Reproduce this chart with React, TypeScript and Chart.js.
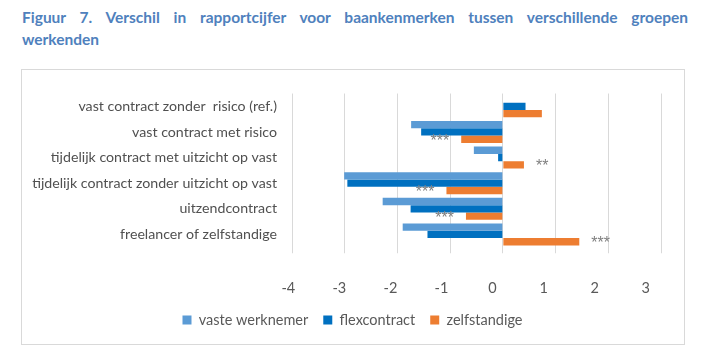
import React, { useEffect, useRef } from "react";
import { Chart, registerables } from "chart.js";

Chart.register(...registerables);

const categories = [
  "vast contract zonder  risico (ref.)",
  "vast contract met risico",
  "tijdelijk contract met uitzicht op vast",
  "tijdelijk contract zonder uitzicht op vast",
  "uitzendcontract",
  "freelancer of zelfstandige",
];
const vasteWerknemer = [0, -1.74, -0.55, -3.01, -2.28, -1.9];
const flexcontract = [0.43, -1.55, -0.09, -2.95, -1.75, -1.43];
const zelfstandige = [0.74, -0.79, 0.4, -1.07, -0.7, 1.45];
const significance = ["", "***", "**", "***", "***", "***"];
const xTickValues = [-4, -3, -2, -1, 0, 1, 2, 3];
const seriesNames = ["vaste werknemer", "flexcontract", "zelfstandige"];

const FONT = "Lato, 'Open Sans', sans-serif";
const TEXT = "#595959";

const starsPlugin = {
  id: "stars",
  afterDatasetsDraw(chart: any) {
    const meta = chart.getDatasetMeta(2);
    const ctx = chart.ctx;
    ctx.save();
    ctx.font = `16px 'Liberation Sans', Arial, sans-serif`;
    ctx.fillStyle = "#7f7f7f";
    ctx.textBaseline = "alphabetic";
    meta.data.forEach((el: any, i: number) => {
      const s = significance[i];
      if (!s) return;
      const neg = zelfstandige[i] < 0;
      ctx.textAlign = neg ? "right" : "left";
      ctx.fillText(s, el.x + (neg ? -12 : 12), el.y + 6.5);
    });
    ctx.restore();
  },
};

export default function App() {
  const ref = useRef<HTMLCanvasElement>(null);
  useEffect(() => {
    if (!ref.current) return;
    const chart = new Chart(ref.current, {
      type: "bar",
      data: {
        labels: categories,
        datasets: [
          { label: seriesNames[0], data: vasteWerknemer, backgroundColor: "#5b9bd5", borderWidth: 0 },
          { label: seriesNames[1], data: flexcontract, backgroundColor: "#0070c0", borderWidth: 0 },
          { label: seriesNames[2], data: zelfstandige, backgroundColor: "#ed7d31", borderWidth: 0 },
        ],
      },
      options: {
        indexAxis: "y",
        animation: false,
        responsive: false,
        devicePixelRatio: 1,
        layout: { padding: { left: 22, right: 23, top: 18.8, bottom: 6.75 } },
        datasets: { bar: { categoryPercentage: 0.86, barPercentage: 1 } },
        scales: {
          x: {
            type: "linear",
            position: "bottom",
            min: -4,
            max: 3,
            grid: { color: "#d9d9d9", lineWidth: 1, drawTicks: true, tickLength: 6 },
            border: { display: false },
            ticks: { display: false, stepSize: 1 },
            afterFit: (s: any) => {
              s.height = 6;
            },
          },
          x2: {
            type: "linear",
            axis: "x",
            position: "bottom",
            min: -3.9275,
            max: 3.2995,
            grid: { display: false, drawTicks: false },
            border: { display: false },
            ticks: {
              autoSkip: false,
              padding: 26,
              color: TEXT,
              font: { family: FONT, size: 14.5 },
            },
            afterBuildTicks: (s: any) => {
              s.ticks = xTickValues.map((v) => ({ value: v }));
            },
            afterFit: (s: any) => {
              s.height = 44.5;
            },
          },
          y: {
            grid: { display: false, drawTicks: false },
            border: { display: false },
            ticks: { padding: 15, color: "#505050", font: { family: FONT, size: 14.2 } },
            afterFit: (s: any) => {
              s.width = 248;
              // let long category labels extend past the axis box (no clipping)
              s._computeLabelArea = () => undefined;
            },
          },
        },
        plugins: {
          legend: {
            position: "bottom",
            labels: {
              boxWidth: 9,
              boxHeight: 9,
              padding: 15,
              color: TEXT,
              font: { family: FONT, size: 14.5 },
            },
          },
          tooltip: { enabled: false },
          title: { display: false },
        },
      } as any,
      plugins: [starsPlugin],
    });
    return () => chart.destroy();
  }, []);

  return (
    <div style={{ position: "absolute", left: 0, top: 0, width: 713, height: 364, background: "#fff" }}>
      <div
        style={{
          position: "absolute",
          left: 22,
          top: 6,
          width: 666,
          font: `bold 15.5px ${FONT}`,
          color: "#4f81bd",
          lineHeight: "22px",
        }}
      >
        <div style={{ textAlign: "justify", textAlignLast: "justify" }}>
          Figuur 7. Verschil in rapportcijfer voor baankenmerken tussen verschillende groepen
        </div>
        <div>werkenden</div>
      </div>
      <div
        style={{
          position: "absolute",
          left: 21,
          top: 69,
          width: 664,
          height: 276,
          border: "1px solid #d9d9d9",
          boxSizing: "border-box",
        }}
      >
        <canvas ref={ref} width={662} height={274} style={{ display: "block", width: 662, height: 274 }} />
      </div>
    </div>
  );
}
